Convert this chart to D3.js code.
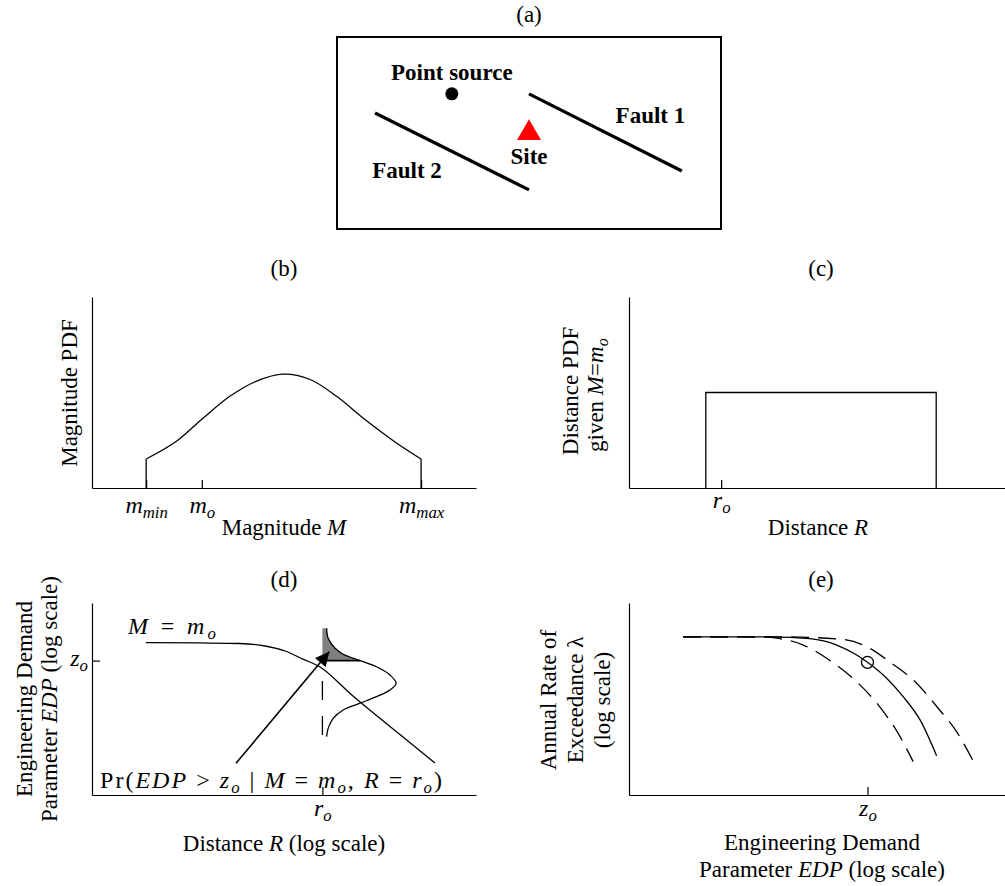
<!DOCTYPE html>
<html>
<head>
<meta charset="utf-8">
<script src="https://cdn.jsdelivr.net/npm/d3@7"></script>
<style>
  html, body { margin: 0; padding: 0; background: #fff; }
  svg text { font-family: "Liberation Serif", "Times New Roman", Times, serif; fill: #000; white-space: pre; }
</style>
</head>
<body>
<svg id="fig" width="1005" height="886" font-family="Liberation Serif, serif"></svg>
<script>
// ---------------- data ----------------
// (a) source map, coordinates in km
const fault1 = [[50.0, 35.2], [89.8, 15.1]];
const fault2 = [[9.9, 30.2], [50.0, 10.2]];
const pointSource = [29.9, 35.2];
const site = [50.0, 25.0];

// (b) magnitude PDF (truncated between m_min and m_max)
const magValues = [1.41, 2.2, 2.86, 3.59, 4.29, 4.98, 5.68, 6.37, 7.1, 7.9, 8.57];
const magPdf    = [1.52, 2.45, 3.6, 4.8, 5.6, 5.96, 5.68, 4.8, 3.6, 2.4, 1.52];
const mMin = 1.41, mO = 2.86, mMax = 8.57;

// (c) distance PDF given M = m_o (uniform)
const distRange = [2.0, 8.0];
const distPdf = 5.0;
const rOc = 2.4;

// (d) median EDP versus distance for M = m_o, and EDP distribution at r_o
const medR   = [1.40, 2.81, 3.85, 4.51, 5.03, 5.49, 5.94, 6.72, 8.02, 8.93];
const medEdp = [7.94, 7.92, 7.89, 7.76, 7.50, 7.08, 6.67, 5.29, 3.15, 1.67];
const rOd = 6.0, zOd = 7.0;
const pdfEdp     = [8.68, 8.16, 7.64, 7.33, 7.0, 6.68, 6.25, 5.82, 5.47, 5.12, 4.78, 4.43, 3.99, 3.47, 3.04];
const pdfDensity = [0.11, 0.15, 0.33, 0.54, 0.98, 1.41, 1.76, 1.92, 1.76, 1.41, 0.98, 0.54, 0.28, 0.15, 0.11];
const stemEdp = [5.94, 3.04];
const arrowFrom = [3.75, 1.65], arrowTo = [6.18, 7.46];

// (e) EDP hazard curves: mean and two bounding curves
const hazX    = [1.41, 3.67, 4.71, 5.41, 5.93, 6.21, 6.71, 7.14, 7.58, 8.01];
const hazY    = [8.24, 8.24, 8.14, 7.81, 7.29, 6.91, 6.08, 5.12, 3.91, 2.05];
const hazHiX  = [1.41, 3.93, 5.54, 6.10, 6.84, 7.49, 8.05, 8.53, 8.97];
const hazHiY  = [8.24, 8.24, 8.11, 7.81, 6.86, 5.82, 4.52, 3.30, 1.74];
const hazLoX  = [1.41, 3.41, 3.93, 4.54, 5.28, 5.93, 6.49, 7.01, 7.40];
const hazLoY  = [8.24, 8.24, 8.14, 7.81, 6.94, 5.90, 4.69, 3.21, 1.74];
const zOe = 6.21, hazAtZo = 6.91;

// ---------------- drawing ----------------
const svg = d3.select("#fig");
const LABEL = 23, MATH = 24, TITLE = 23;

// text made of runs: {t, i: italic, s: subscript}
function runs(sel, parts, base) {
  let shift = 0;
  parts.forEach(p => {
    const ts = sel.append("tspan").text(p.t);
    if (p.i) ts.attr("font-style", "italic");
    if (p.s) {
      const dy = base * 0.22;
      ts.attr("font-size", base * 0.7).attr("dy", dy - shift);
      shift = dy;
    } else if (shift) {
      ts.attr("dy", -shift);
      shift = 0;
    }
  });
  return sel;
}
function hText(x, y, parts, size, anchor = "middle") {
  const t = svg.append("text").attr("x", x).attr("y", y)
    .attr("font-size", size).attr("text-anchor", anchor);
  return runs(t, parts, size);
}
function vText(x, y, parts, size, anchor = "middle") {
  const t = svg.append("text").attr("transform", `translate(${x},${y}) rotate(-90)`)
    .attr("font-size", size).attr("text-anchor", anchor);
  return runs(t, parts, size);
}
const N = t => ({ t }), I = t => ({ t, i: true }), S = t => ({ t, s: true, i: true });

function makeAxes(x, y, opt) {
  const g = svg.append("g");
  const ax = d3.axisBottom(x).tickSizeOuter(0).tickSizeInner(-8).tickValues(opt.xt || []).tickFormat("");
  const ay = d3.axisLeft(y).tickSizeOuter(0).tickSizeInner(-8).tickValues(opt.yt || []).tickFormat("");
  const gx = g.append("g").attr("transform", `translate(0,${y.range()[0]})`).call(ax);
  const gy = g.append("g").attr("transform", `translate(${x.range()[0]},0)`).call(ay);
  g.selectAll("g").attr("font-family", null);
  g.selectAll("path.domain, .tick line").attr("stroke", "#000").attr("stroke-width", 1.2);
  g.selectAll("text").attr("font-size", MATH).attr("fill", "#000");
  return { gx, gy };
}
function setTickLabels(axisG, labels, y, dx = 0, anchor = "middle") {
  axisG.selectAll(".tick text").each(function (d, i) {
    const t = d3.select(this).attr("y", y).attr("dy", null).attr("x", dx).attr("text-anchor", anchor);
    runs(t, labels[i], MATH);
  });
}
const line = (x, y, curve) => d3.line().x(d => x(d[0])).y(d => y(d[1])).curve(curve || d3.curveLinear);
const plain = { fill: "none", stroke: "#000", "stroke-width": 1.3 };
function styled(sel, st) { Object.entries(st).forEach(([k, v]) => sel.attr(k, v)); return sel; }

// panel titles
[["(a)", 529, 22], ["(b)", 284, 276], ["(c)", 821, 276], ["(d)", 284, 587], ["(e)", 821, 587]]
  .forEach(([t, x, y]) => hText(x, y, [N(t)], TITLE));

// ---- (a) map ----
{
  const xa = d3.scaleLinear().domain([0, 100]).range([337, 721]);
  const ya = d3.scaleLinear().domain([0, 50]).range([229, 37]);
  svg.append("rect").attr("x", xa(0)).attr("y", ya(50))
    .attr("width", xa(100) - xa(0)).attr("height", ya(0) - ya(50))
    .attr("fill", "none").attr("stroke", "#000").attr("stroke-width", 2);
  [fault1, fault2].forEach(f => svg.append("path").attr("d", line(xa, ya)(f))
    .attr("stroke", "#000").attr("stroke-width", 3.2).attr("fill", "none"));
  svg.append("circle").attr("cx", xa(pointSource[0])).attr("cy", ya(pointSource[1]))
    .attr("r", 6.5).attr("fill", "#000");
  svg.append("path").attr("d", d3.symbol(d3.symbolTriangle, 250)())
    .attr("transform", `translate(${xa(site[0])},${ya(site[1])})`).attr("fill", "#ff0000");
  const bold = (x, y, t) => hText(x, y, [N(t)], LABEL).attr("font-weight", "bold");
  bold(xa(pointSource[0]), ya(pointSource[1]) - 14, "Point source");
  bold(xa(site[0]), ya(site[1]) + 31, "Site");
  const mid = f => [(xa(f[0][0]) + xa(f[1][0])) / 2, (ya(f[0][1]) + ya(f[1][1])) / 2];
  const m1 = mid(fault1), m2 = mid(fault2);
  bold(m1[0] + 45, m1[1] - 9, "Fault 1");
  bold(m2[0] - 45, m2[1] + 27, "Fault 2");
}

// ---- (b) magnitude PDF ----
{
  const x = d3.scaleLinear().domain([0, 10]).range([92, 476]);
  const y = d3.scaleLinear().domain([0, 10]).range([488, 297]);
  const { gx } = makeAxes(x, y, { xt: [mMin, mO, mMax] });
  setTickLabels(gx, [[I("m"), S("min")], [I("m"), S("o")], [I("m"), S("max")]], 25);
  const pts = magValues.map((m, i) => [m, magPdf[i]]);
  styled(svg.append("path").attr("d", line(x, y, d3.curveCatmullRom)(pts)), plain);
  styled(svg.append("path").attr("d", line(x, y)([[mMin, 0], [mMin, magPdf[0]]])), plain);
  styled(svg.append("path").attr("d", line(x, y)([[mMax, 0], [mMax, magPdf[magPdf.length - 1]]])), plain);
  hText(284, 535, [N("Magnitude "), I("M")], LABEL);
  vText(77, 393, [N("Magnitude PDF")], LABEL);
}

// ---- (c) distance PDF ----
{
  const x = d3.scaleLinear().domain([0, 10]).range([629, 1013]);
  const y = d3.scaleLinear().domain([0, 10]).range([488, 297]);
  const { gx } = makeAxes(x, y, { xt: [rOc] });
  setTickLabels(gx, [[I("r"), S("o")]], 20);
  const box = [[distRange[0], 0], [distRange[0], distPdf], [distRange[1], distPdf], [distRange[1], 0]];
  styled(svg.append("path").attr("d", line(x, y)(box)), plain);
  hText(818, 535, [N("Distance "), I("R")], LABEL);
  vText(578, 391, [N("Distance PDF")], LABEL);
  vText(603, 452, [N("given "), I("M"), N("="), I("m"), S("o")], LABEL, "start");
}

// ---- (d) EDP vs distance ----
{
  const x = d3.scaleLinear().domain([0, 10]).range([92, 476]);
  const y = d3.scaleLinear().domain([0, 10]).range([795, 603]);
  const { gx, gy } = makeAxes(x, y, { xt: [rOd], yt: [zOd] });
  setTickLabels(gx, [[I("r"), S("o")]], 21);
  setTickLabels(gy, [[I("z"), S("o")]], 4.5, -4, "end");

  const pdfPts = pdfEdp.map((e, i) => [rOd + pdfDensity[i], e]);
  // exceedance area above z_o
  const upper = pdfPts.filter(p => p[1] >= zOd);
  const shade = [[rOd, pdfEdp[0]], ...upper, [rOd, zOd]];
  svg.append("path").attr("d", line(x, y, d3.curveLinear)(shade) + "Z").attr("fill", "#808080");
  svg.append("path").attr("d", line(x, y)([[rOd, zOd], upper[upper.length - 1]]))
    .attr("stroke", "#000").attr("stroke-width", 1.8);
  styled(svg.append("path").attr("d", line(x, y, d3.curveCatmullRom)(pdfPts)), plain);
  styled(svg.append("path").attr("d", line(x, y)([[rOd, stemEdp[0]], [rOd, stemEdp[1]]])), plain)
    .attr("stroke-dasharray", "19,16");

  const med = medR.map((r, i) => [r, medEdp[i]]);
  styled(svg.append("path").attr("d", line(x, y, d3.curveMonotoneX)(med)), plain);

  const defs = svg.append("defs");
  defs.append("marker").attr("id", "head").attr("viewBox", "0 0 10 10")
    .attr("refX", 10).attr("refY", 5).attr("markerUnits", "userSpaceOnUse")
    .attr("markerWidth", 16).attr("markerHeight", 14).attr("orient", "auto")
    .append("path").attr("d", "M0,0L10,5L0,10Z").attr("fill", "#000");
  svg.append("path").attr("d", line(x, y)([arrowFrom, arrowTo]))
    .attr("stroke", "#000").attr("stroke-width", 1.6).attr("fill", "none")
    .attr("marker-end", "url(#head)");

  hText(128, 634, [I("M"), N(" = "), I("m"), S("o")], MATH, "start").attr("textLength", 88);
  hText(100, 788, [N("Pr("), I("EDP"), N(" > "), I("z"), S("o"), N(" | "), I("M"), N(" = "),
    I("m"), S("o"), N(", "), I("R"), N(" = "), I("r"), S("o"), N(")")], MATH, "start")
    .attr("textLength", 342);

  hText(284, 851, [N("Distance "), I("R"), N(" (log scale)")], LABEL);
  vText(32, 699, [N("Engineering Demand")], LABEL);
  vText(57, 699, [N("Parameter "), I("EDP"), N(" (log scale)")], LABEL);
}

// ---- (e) hazard curves ----
{
  const x = d3.scaleLinear().domain([0, 10]).range([629, 1013]);
  const y = d3.scaleLinear().domain([0, 10]).range([795, 603]);
  const { gx } = makeAxes(x, y, { xt: [zOe] });
  setTickLabels(gx, [[I("z"), S("o")]], 21);
  const mk = (xs, ys) => xs.map((v, i) => [v, ys[i]]);
  styled(svg.append("path").attr("d", line(x, y, d3.curveMonotoneX)(mk(hazHiX, hazHiY))), plain)
    .attr("stroke-dasharray", "18,9");
  styled(svg.append("path").attr("d", line(x, y, d3.curveMonotoneX)(mk(hazLoX, hazLoY))), plain)
    .attr("stroke-dasharray", "18,9");
  styled(svg.append("path").attr("d", line(x, y, d3.curveMonotoneX)(mk(hazX, hazY))), plain);
  svg.append("circle").attr("cx", x(zOe)).attr("cy", y(hazAtZo)).attr("r", 6)
    .attr("fill", "none").attr("stroke", "#000").attr("stroke-width", 1.3);

  hText(822, 850, [N("Engineering Demand")], LABEL);
  hText(822, 877, [N("Parameter "), I("EDP"), N(" (log scale)")], LABEL);
  vText(556, 700, [N("Annual Rate of")], LABEL);
  vText(583, 700, [N("Exceedance λ")], LABEL);
  vText(610, 700, [N("(log scale)")], LABEL);
}
</script>
</body>
</html>
